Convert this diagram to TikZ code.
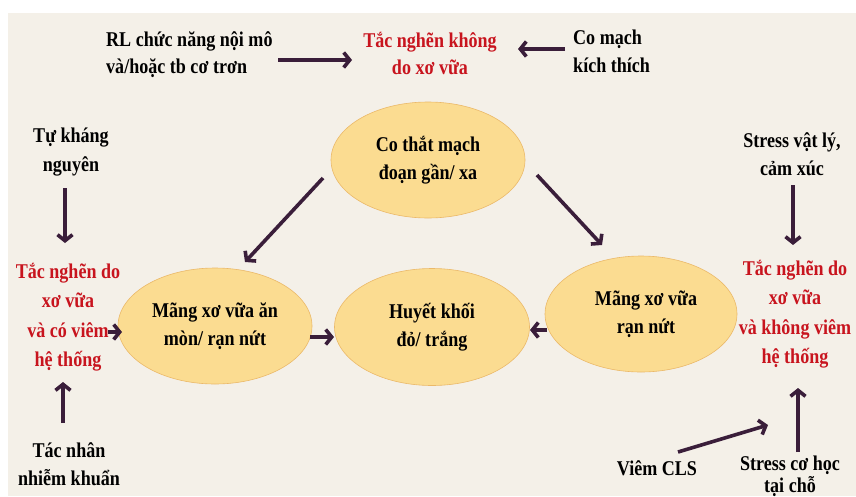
\documentclass[tikz,border=0pt]{standalone}
\usepackage{fontspec}
\setmainfont{Liberation Serif}[FakeStretch=0.86]
\usetikzlibrary{arrows.meta,shapes.geometric}
\definecolor{bgbeige}{RGB}{244,240,232}
\definecolor{ellfill}{RGB}{251,220,145}
\definecolor{elldraw}{RGB}{235,185,105}
\definecolor{txtred}{RGB}{200,20,30}
\definecolor{arrcol}{RGB}{58,30,58}
\tikzset{
  lbl/.style={inner sep=0pt, align=center, font=\bfseries\fontsize{21}{28}\selectfont},
  redlbl/.style={lbl, text=txtred, font=\bfseries\fontsize{21}{29.5}\selectfont},
  ell/.style={ellipse, draw=elldraw, line width=0.6pt, fill=ellfill, inner sep=0pt,
    align=center, font=\bfseries\fontsize{21}{27.5}\selectfont},
  arr/.style={draw=arrcol, line width=3.6pt, -{Straight Barb[length=6pt,width=15pt]}}
}
\begin{document}
\begin{tikzpicture}[x=1pt,y=-1pt]
\useasboundingbox (0,0) rectangle (856,496);
\fill[white] (0,0) rectangle (856,496);
\fill[bgbeige] (8,13) rectangle (856,496);

% text nodes
\node[lbl, align=left, anchor=west, font=\bfseries\fontsize{21}{27}\selectfont] (rl) at (106,55) {RL chức năng nội mô\\và/hoặc tb cơ trơn};
\node[redlbl, font=\bfseries\fontsize{21}{27}\selectfont] (topred) at (430,53) {Tắc nghẽn không\\do xơ vữa};
\node[lbl, align=left, anchor=west] (comach) at (573,51) {Co mạch\\kích thích};
\node[lbl, font=\bfseries\fontsize{21}{29}\selectfont] (tukhang) at (71,152) {Tự kháng\\nguyên};
\node[redlbl] (leftred) at (68,317) {Tắc nghẽn do\\xơ vữa\\và có viêm\\hệ thống};
\node[lbl] (tacnhan) at (69,464) {Tác nhân\\nhiễm khuẩn};
\node[lbl] (stressvl) at (792,154) {Stress vật lý,\\cảm xúc};
\node[redlbl] (rightred) at (795,314) {Tắc nghẽn do\\xơ vữa\\và không viêm\\hệ thống};
\node[lbl] (viem) at (657,468) {Viêm CLS};
\node[lbl, font=\bfseries\fontsize{21}{22}\selectfont] (stressch) at (790,476) {Stress cơ học\\tại chỗ};

% ellipses
\node[ell, minimum width=194pt, minimum height=116pt] (co) at (428,160) {Co thắt mạch\\đoạn gần/ xa};
\node[ell, minimum width=194pt, minimum height=116pt] (mx1) at (215,326) {Mãng xơ vữa ăn\\mòn/ rạn nứt};
\node[ell, minimum width=195pt, minimum height=117pt] (hk) at (432,327) {Huyết khối\\đỏ/ trắng};
\node[ell, minimum width=192pt, minimum height=116pt] (mx2) at (641,314) {\hspace*{10pt}Mãng xơ vữa\\\hspace*{10pt}rạn nứt};

% connectors
\draw[arr] ([shift={(172,5)}]rl.west) -- ([shift={(-78,7)}]topred.center);
\draw[arr] ([shift={(-8,-2)}]comach.west) -- ([shift={(88,-4)}]topred.center);
\draw[arr] ([shift={(-6,36)}]tukhang.center) -- ([shift={(-3,-74)}]leftred.center);
\draw[arr] ([shift={(-6,-41)}]tacnhan.center) -- ([shift={(-5,65)}]leftred.center);
\draw[arr] ([shift={(40,15)}]leftred.center) -- ([shift={(-93,6)}]mx1.center);
\draw[arr] ([shift={(-105,18)}]co.center) -- ([shift={(30,-64)}]mx1.center);
\draw[arr] ([shift={(109,15)}]co.center) -- ([shift={(-39,-69)}]mx2.center);
\draw[arr] ([shift={(95,11)}]mx1.center) -- ([shift={(-98,10)}]hk.center);
\draw[arr] ([shift={(-94,16)}]mx2.center) -- ([shift={(98,3)}]hk.center);
\draw[arr] ([shift={(1,31)}]stressvl.center) -- ([shift={(-2,-69)}]rightred.center);
\draw[arr] ([shift={(8,-24)}]stressch.center) -- ([shift={(3,74)}]rightred.center);
\draw[arr] ([shift={(21,-16)}]viem.center) -- ([shift={(-27,111)}]rightred.center);
\end{tikzpicture}
\end{document}
